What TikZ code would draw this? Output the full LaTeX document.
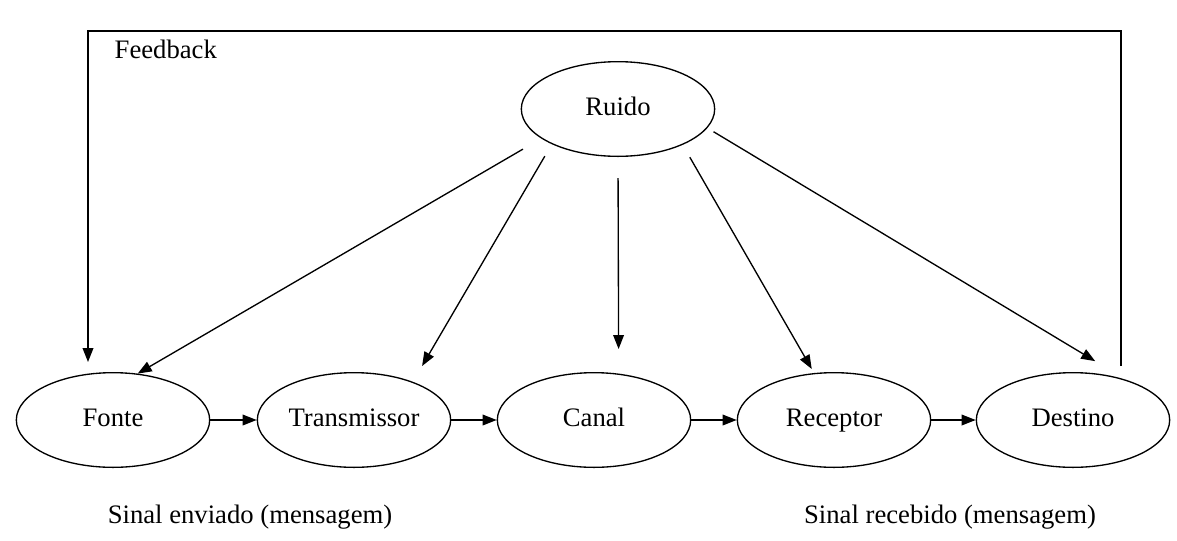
\documentclass[tikz,border=0pt]{standalone}
\usepackage{fontspec}
\setmainfont{Liberation Serif}
\usetikzlibrary{shapes.geometric,arrows.meta}

\tikzset{
  caixa/.style={draw, ellipse, line width=1pt, minimum width=145pt,
    minimum height=71pt, inner sep=0pt, text height=0.95em, text depth=0pt},
  seta/.style={-{Triangle[length=10.5pt,width=8pt]}, line width=1pt},
}

\begin{document}
\begin{tikzpicture}[x=0.75pt,y=-0.75pt,font=\fontsize{20}{24}\selectfont]
  \useasboundingbox[fill=white] (0,0) rectangle (1177,540);
  % Ellipses
  \node[caixa] (Ruido) at (618,109) {Ruido};
  \node[caixa] (Fonte) at (113,420) {Fonte};
  \node[caixa] (Transmissor) at (354,420) {Transmissor};
  \node[caixa] (Canal) at (594,420) {Canal};
  \node[caixa] (Receptor) at (834,420) {Receptor};
  \node[caixa] (Destino) at (1073,420) {Destino};
  % Chain
  \draw[seta] (Fonte) -- (Transmissor);
  \draw[seta] (Transmissor) -- (Canal);
  \draw[seta] (Canal) -- (Receptor);
  \draw[seta] (Receptor) -- (Destino);
  % Noise
  \draw[seta, shorten <=15.8pt] (Ruido.201) -- (Fonte.62);
  \draw[seta, shorten <=10.4pt, shorten >=13.7pt] (Ruido.208) -- (Transmissor.33);
  \draw[seta, shorten <=15.8pt, shorten >=18.4pt] (Ruido.south) -- (Canal.62.4);
  \draw[seta, shorten <=10.7pt, shorten >=3.5pt] (Ruido.331) -- (Receptor.113);
  \draw[seta, shorten <=5.4pt, shorten >=27.2pt] (Ruido.348) -- (Destino.37);
  % Feedback
  \coordinate (fbA) at (1121,366);
  \coordinate (fbB) at (88,362);
  \draw[seta, line width=1.3pt] (fbA) -- ++(0,-335) -| (fbB);
  \node[anchor=base west] (feedback) at (110,58) {Feedback};
  % Labels
  \node[anchor=base] (enviado) at (250,523) {Sinal enviado (mensagem)};
  \node[anchor=base] (recebido) at (950,523) {Sinal recebido (mensagem)};
\end{tikzpicture}
\end{document}
